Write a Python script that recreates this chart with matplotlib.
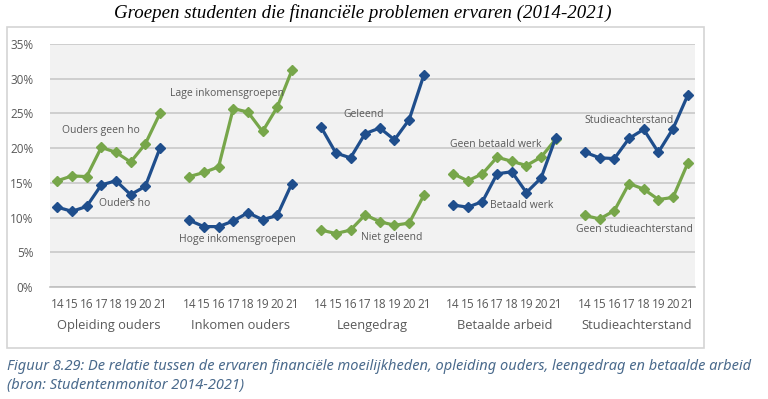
import numpy as np
import matplotlib
matplotlib.use("Agg")
import matplotlib.pyplot as plt
from matplotlib.patches import Rectangle

years = ["14", "15", "16", "17", "18", "19", "20", "21"]
groups = ["Opleiding ouders", "Inkomen ouders", "Leengedrag", "Betaalde arbeid", "Studieachterstand"]

# green series per group
green_vals = [
    [15.3, 16.0, 15.9, 20.1, 19.4, 18.0, 20.6, 25.0],
    [15.9, 16.5, 17.3, 25.7, 25.2, 22.4, 25.9, 31.2],
    [8.2, 7.7, 8.2, 10.4, 9.4, 8.9, 9.2, 13.2],
    [16.3, 15.3, 16.3, 18.7, 18.1, 17.5, 18.7, 21.3],
    [10.3, 9.8, 11.0, 14.9, 14.1, 12.6, 12.9, 17.8],
]
# blue series per group
blue_vals = [
    [11.5, 10.9, 11.6, 14.7, 15.3, 13.3, 14.5, 20.0],
    [9.6, 8.7, 8.7, 9.5, 10.7, 9.7, 10.3, 14.9],
    [23.0, 19.3, 18.6, 22.1, 22.9, 21.2, 24.1, 30.5],
    [11.8, 11.5, 12.3, 16.3, 16.6, 13.6, 15.7, 21.5],
    [19.4, 18.6, 18.5, 21.4, 22.7, 19.4, 22.8, 27.6],
]
green_names = ["Ouders geen ho", "Lage inkomensgroepen", "Niet geleend",
               "Geen betaald werk", "Geen studieachterstand"]
blue_names = ["Ouders ho", "Hoge inkomensgroepen", "Geleend",
              "Betaald werk", "Studieachterstand"]
# label anchor (slot, value) for each series label
green_pos = [(3.5, 22.5), (12.1, 27.8), (23.3, 7.1), (30.4, 20.55), (39.9, 8.3)]
blue_pos = [(5.1, 12.0), (12.8, 6.8), (21.4, 24.8), (32.2, 11.7), (39.5, 24.05)]

GREEN = "#77a64a"
BLUE = "#1f4e8c"
TXT = "#595959"

fig = plt.figure(figsize=(7.68, 3.99), dpi=100)
fig.patches.append(Rectangle((7 / 768, 1 - 348 / 399), 697 / 768, 321 / 399,
                             transform=fig.transFigure, fill=False,
                             edgecolor="#d4d4d4", linewidth=1.2))

ax = fig.add_axes([50 / 768, 1 - 287 / 399, 645 / 768, 243 / 399])
ax.set_facecolor("#f2f2f2")

ticks = []
for g in range(len(groups)):
    xs = g * 9 + np.arange(8) + 0.5
    ticks.extend(xs)
    ax.plot(xs, green_vals[g], color=GREEN, lw=2.3, marker="D", ms=5, zorder=3)
    ax.plot(xs, blue_vals[g], color=BLUE, lw=2.3, marker="D", ms=5, zorder=3)
    ax.text(green_pos[g][0], green_pos[g][1], green_names[g], ha="center", va="center",
            fontsize=7.5, color=TXT, family="Open Sans", zorder=4)
    ax.text(blue_pos[g][0], blue_pos[g][1], blue_names[g], ha="center", va="center",
            fontsize=7.5, color=TXT, family="Open Sans", zorder=4)
    ax.text(g * 9 + 4, -5.5, groups[g], ha="center", va="center", fontsize=9.3,
            color=TXT, family="Open Sans")

ax.set_xlim(0, 44)
ax.set_ylim(0, 35)
ax.set_xticks(ticks)
ax.set_xticklabels(years * len(groups), fontsize=8.5, color=TXT, family="Open Sans")
ax.set_yticks(np.arange(0, 36, 5))
ax.set_yticklabels([f"{v}%" for v in range(0, 36, 5)], fontsize=8.5, color=TXT,
                   family="Open Sans")
ax.tick_params(length=0, pad=8)
ax.tick_params(axis="y", pad=12)
ax.grid(axis="y", color="#c8c8c8", lw=1.2)
ax.set_axisbelow(True)
for s in ["top", "right", "left"]:
    ax.spines[s].set_visible(False)
ax.spines["bottom"].set_color("#c0c0c0")
ax.spines["bottom"].set_linewidth(1.2)

fig.text(363 / 768, 1 - 13 / 399, "Groepen studenten die financiële problemen ervaren (2014-2021)",
         ha="center", va="center", fontsize=13.6, style="italic", family="Liberation Serif")
fig.text(7 / 768, 1 - 366 / 399,
         "Figuur 8.29: De relatie tussen de ervaren financiële moeilijkheden, opleiding ouders, leengedrag en betaalde arbeid",
         ha="left", va="center", fontsize=10.5, style="italic", color="#4a6a8c", family="Noto Sans")
fig.text(7 / 768, 1 - 385 / 399, "(bron: Studentenmonitor 2014-2021)",
         ha="left", va="center", fontsize=10.5, style="italic", color="#4a6a8c", family="Noto Sans")

fig.savefig("out.png", dpi=100)
